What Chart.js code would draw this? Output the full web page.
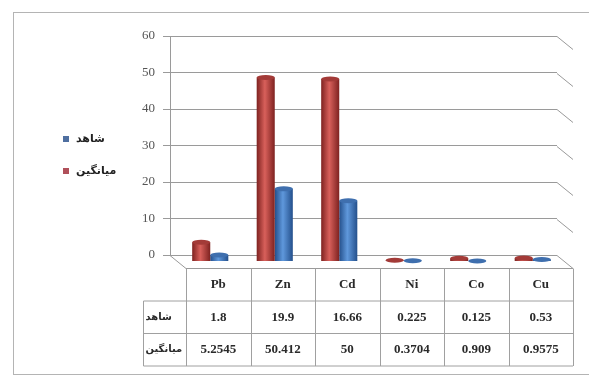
<!DOCTYPE html>
<html>
<head>
<meta charset="utf-8">
<script src="https://cdn.jsdelivr.net/npm/chart.js@4.4.1/dist/chart.umd.min.js"></script>
<style>
  html, body { margin: 0; padding: 0; background: #fff; }
  #wrap { width: 589px; height: 376px; }
</style>
</head>
<body>
<div id="wrap"><canvas id="metals" width="589" height="376"></canvas></div>
<script>
// Heavy metal concentrations: control (شاهد) vs mean (میانگین)
const metals = ['Pb', 'Zn', 'Cd', 'Ni', 'Co', 'Cu'];
const controlValues = [1.8, 19.9, 16.66, 0.225, 0.125, 0.53];
const meanValues = [5.2545, 50.412, 50, 0.3704, 0.909, 0.9575];
const controlLabels = ['1.8', '19.9', '16.66', '0.225', '0.125', '0.53'];
const meanLabels = ['5.2545', '50.412', '50', '0.3704', '0.909', '0.9575'];
const controlName = 'شاهد';
const meanName = 'میانگین';

const DEPTH_X = 16, DEPTH_Y = 13;   // fake 3d floor depth
const CAT_PCT = 0.56;

// horizontal gradient so the bars read as cylinders
function cylinder(dark, mid, light, side) {
    return function(c) {
        const chart = c.chart;
        const xs = chart.scales.x;
        if (!xs || c.type !== 'data' || !chart.chartArea) return mid;
        const w = xs.width / metals.length * CAT_PCT / 2;
        const cx = xs.getPixelForValue(c.dataIndex) + side * w / 2;
        const g = chart.ctx.createLinearGradient(cx - w / 2, 0, cx + w / 2, 0);
        g.addColorStop(0, dark);
        g.addColorStop(0.45, light);
        g.addColorStop(1, dark);
        return g;
    };
}

const depthPlugin = {
    id: 'depth',
    beforeDraw(chart) {
        const ctx = chart.ctx;
        ctx.save();
        ctx.fillStyle = '#fff';
        ctx.fillRect(0, 0, chart.width, chart.height);
        // outer frame
        ctx.strokeStyle = '#b4b4b4';
        ctx.lineWidth = 1;
        ctx.strokeRect(13.5, 12.5, 600, 362);
        ctx.restore();
    },
    afterDraw(chart) {
        const ctx = chart.ctx;
        const a = chart.chartArea;
        const ys = chart.scales.y;
        ctx.save();
        ctx.strokeStyle = '#9a9a9a';
        ctx.lineWidth = 1;
        // side wall edges on the right
        ys.ticks.forEach(t => {
            const y = Math.round(ys.getPixelForValue(t.value)) + 0.5;
            ctx.beginPath();
            ctx.moveTo(a.right, y);
            ctx.lineTo(a.right + DEPTH_X, y + DEPTH_Y);
            ctx.stroke();
        });
        // floor
        const y0 = Math.round(ys.getPixelForValue(0)) + 0.5;
        ctx.beginPath();
        ctx.moveTo(a.left, y0);
        ctx.lineTo(a.left + DEPTH_X, y0 + DEPTH_Y);
        ctx.lineTo(a.right + DEPTH_X, y0 + DEPTH_Y);
        ctx.stroke();
        ctx.restore();
    }
};

// translate the bars to the middle of the floor and put caps on them
const barShift = {
    id: 'barShift',
    beforeDatasetsDraw(chart) {
        chart.ctx.save();
        chart.ctx.translate(DEPTH_X / 2, DEPTH_Y / 2);
    },
    afterDatasetsDraw(chart) {
        const ctx = chart.ctx;
        const caps = ['#a33b38', '#3f6fae'];
        chart.data.datasets.forEach((ds, i) => {
            chart.getDatasetMeta(i).data.forEach(el => {
                ctx.fillStyle = caps[i];
                ctx.beginPath();
                ctx.ellipse(el.x, el.y, el.width / 2, 2.5, 0, 0, Math.PI * 2);
                ctx.fill();
            });
        });
        ctx.restore();
    }
};

// data table under the plot, columns follow the category scale
const dataTable = {
    id: 'dataTable',
    afterDraw(chart) {
        const ctx = chart.ctx;
        const xs = chart.scales.x;
        const ys = chart.scales.y;
        const top = Math.round(ys.getPixelForValue(0)) + DEPTH_Y + 0.5;
        const rowH = 32.5;
        const colW = xs.width / metals.length;
        const left0 = xs.left + DEPTH_X;
        const headL = 143.5;
        const rows = [top, top + rowH, top + rowH * 2, top + rowH * 3];
        ctx.save();
        ctx.strokeStyle = '#a0a0a0';
        ctx.lineWidth = 1;
        for (let i = 0; i <= metals.length; i++) {
            const x = Math.round(left0 + colW * i) + 0.5;
            ctx.beginPath();
            ctx.moveTo(x, rows[0]);
            ctx.lineTo(x, rows[3]);
            ctx.stroke();
        }
        ctx.beginPath();
        ctx.moveTo(headL, rows[1]);
        ctx.lineTo(headL, rows[3]);
        for (let r = 1; r <= 3; r++) {
            ctx.moveTo(headL, rows[r]);
            ctx.lineTo(xs.right + DEPTH_X, rows[r]);
        }
        ctx.stroke();

        ctx.fillStyle = '#2a2a2a';
        ctx.textAlign = 'center';
        ctx.textBaseline = 'middle';
        ctx.font = 'bold 13px "Liberation Serif"';
        metals.forEach((m, i) => {
            const cx = left0 + colW * (i + 0.5);
            ctx.fillText(m, cx, rows[0] + rowH / 2);
            ctx.fillText(controlLabels[i], cx, rows[1] + rowH / 2);
            ctx.fillText(meanLabels[i], cx, rows[2] + rowH / 2);
        });
        ctx.textAlign = 'left';
        ctx.font = 'bold 10px "DejaVu Sans"';
        ctx.fillText(controlName, headL + 2, rows[1] + rowH / 2);
        ctx.fillText(meanName, headL + 2, rows[2] + rowH / 2);

        // legend
        ctx.font = 'bold 11px "DejaVu Sans"';
        const items = [[controlName, '#4f6fa0', 139], [meanName, '#b0505a', 171]];
        items.forEach(([txt, col, y]) => {
            ctx.fillStyle = col;
            ctx.fillRect(63, y - 3, 6, 6);
            ctx.fillStyle = '#222';
            ctx.fillText(txt, 76, y);
        });
        ctx.restore();
    }
};

new Chart(document.getElementById('metals'), {
    type: 'bar',
    data: {
        labels: metals,
        datasets: [
            {
                label: meanName,
                data: meanValues,
                backgroundColor: cylinder('#7e2220', '#c0504d', '#d8605b', -1),
                categoryPercentage: CAT_PCT,
                barPercentage: 1
            },
            {
                label: controlName,
                data: controlValues,
                backgroundColor: cylinder('#24508c', '#4f81bd', '#5f98dc', 1),
                categoryPercentage: CAT_PCT,
                barPercentage: 1
            }
        ]
    },
    options: {
        responsive: false,
        animation: false,
        devicePixelRatio: 1,
        layout: {
            padding: { top: 36, right: 32, bottom: 121, left: 0 }
        },
        plugins: {
            legend: { display: false },
            tooltip: { enabled: false }
        },
        scales: {
            x: { display: false },
            y: {
                min: 0,
                max: 60,
                ticks: {
                    stepSize: 10,
                    padding: 8,
                    color: '#555',
                    font: { family: 'Liberation Serif', size: 13 }
                },
                grid: { color: '#9a9a9a', tickLength: 7 },
                border: { color: '#9a9a9a' },
                afterFit(scale) { scale.width = 170; }
            }
        }
    },
    plugins: [depthPlugin, barShift, dataTable]
});
</script>
</body>
</html>
